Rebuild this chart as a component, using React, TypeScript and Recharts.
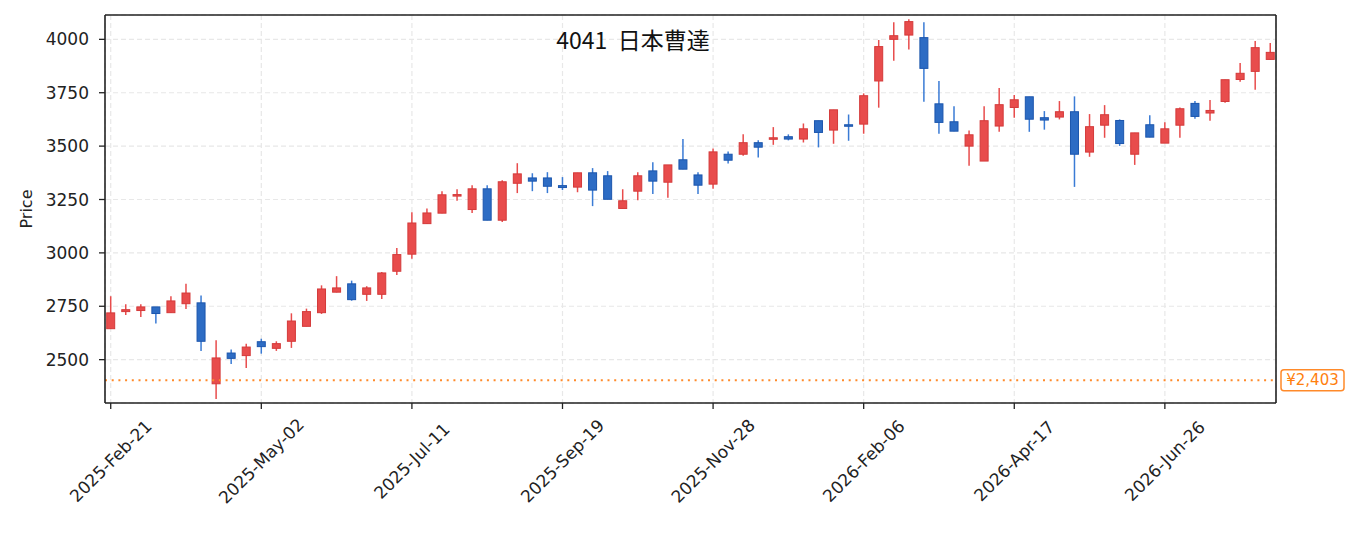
import { ComposedChart, Bar, XAxis, YAxis, CartesianGrid, ReferenceLine } from "recharts";

// 週足（2025-02-21 〜 2026-08-14）
const dates = [
  "2025-Feb-21", "2025-Feb-28", "2025-Mar-07", "2025-Mar-14", "2025-Mar-21", "2025-Mar-28",
  "2025-Apr-04", "2025-Apr-11", "2025-Apr-18", "2025-Apr-25", "2025-May-02", "2025-May-09",
  "2025-May-16", "2025-May-23", "2025-May-30", "2025-Jun-06", "2025-Jun-13", "2025-Jun-20",
  "2025-Jun-27", "2025-Jul-04", "2025-Jul-11", "2025-Jul-18", "2025-Jul-25", "2025-Aug-01",
  "2025-Aug-08", "2025-Aug-15", "2025-Aug-22", "2025-Aug-29", "2025-Sep-05", "2025-Sep-12",
  "2025-Sep-19", "2025-Sep-26", "2025-Oct-03", "2025-Oct-10", "2025-Oct-17", "2025-Oct-24",
  "2025-Oct-31", "2025-Nov-07", "2025-Nov-14", "2025-Nov-21", "2025-Nov-28", "2025-Dec-05",
  "2025-Dec-12", "2025-Dec-19", "2025-Dec-26", "2026-Jan-02", "2026-Jan-09", "2026-Jan-16",
  "2026-Jan-23", "2026-Jan-30", "2026-Feb-06", "2026-Feb-13", "2026-Feb-20", "2026-Feb-27",
  "2026-Mar-06", "2026-Mar-13", "2026-Mar-20", "2026-Mar-27", "2026-Apr-03", "2026-Apr-10",
  "2026-Apr-17", "2026-Apr-24", "2026-May-01", "2026-May-08", "2026-May-15", "2026-May-22",
  "2026-May-29", "2026-Jun-05", "2026-Jun-12", "2026-Jun-19", "2026-Jun-26", "2026-Jul-03",
  "2026-Jul-10", "2026-Jul-17", "2026-Jul-24", "2026-Jul-31", "2026-Aug-07", "2026-Aug-14",
];

const opens = [
  2645, 2725, 2730, 2747, 2720, 2762, 2766, 2387, 2531, 2519, 2584, 2553, 2586, 2656, 2720, 2816,
  2855, 2806, 2806, 2914, 2994, 3137, 3186, 3269, 3203, 3300, 3153, 3326, 3351, 3351, 3315, 3308,
  3375, 3361, 3208, 3289, 3384, 3331, 3436, 3365, 3322, 3462, 3462, 3516, 3533, 3544, 3533, 3619,
  3575, 3600, 3603, 3805, 4000, 4020, 4008, 3698, 3614, 3500, 3430, 3594, 3681, 3731, 3633, 3636,
  3661, 3472, 3598, 3620, 3462, 3600, 3514, 3598, 3700, 3655, 3709, 3812, 3850, 3906,
];
const highs = [
  2797, 2759, 2759, 2747, 2797, 2856, 2801, 2591, 2547, 2575, 2598, 2586, 2717, 2739, 2848, 2891,
  2870, 2844, 2910, 3023, 3190, 3208, 3289, 3298, 3317, 3317, 3340, 3420, 3373, 3378, 3355, 3375,
  3397, 3383, 3298, 3378, 3425, 3412, 3533, 3378, 3489, 3475, 3555, 3527, 3589, 3555, 3606, 3619,
  3670, 3648, 3747, 3997, 4080, 4094, 4080, 3805, 3687, 3573, 3687, 3772, 3739, 3731, 3664, 3711,
  3733, 3650, 3692, 3625, 3562, 3645, 3612, 3681, 3711, 3716, 3811, 3889, 3992, 3983,
];
const lows = [
  2645, 2709, 2700, 2669, 2720, 2737, 2541, 2316, 2480, 2461, 2528, 2541, 2555, 2656, 2714, 2815,
  2776, 2775, 2784, 2897, 2972, 3137, 3186, 3244, 3187, 3153, 3145, 3280, 3289, 3280, 3294, 3284,
  3219, 3251, 3208, 3247, 3276, 3258, 3392, 3276, 3300, 3419, 3455, 3447, 3506, 3527, 3517, 3494,
  3511, 3525, 3558, 3680, 3900, 3952, 3708, 3558, 3570, 3408, 3430, 3567, 3633, 3567, 3577, 3625,
  3309, 3450, 3539, 3501, 3412, 3542, 3514, 3539, 3628, 3619, 3703, 3801, 3764, 3906,
];
const closes = [
  2719, 2734, 2747, 2716, 2775, 2812, 2586, 2508, 2506, 2559, 2561, 2575, 2681, 2725, 2831, 2836,
  2781, 2836, 2906, 2992, 3140, 3187, 3272, 3273, 3300, 3153, 3333, 3370, 3336, 3312, 3306, 3375,
  3294, 3251, 3244, 3361, 3336, 3412, 3392, 3317, 3473, 3434, 3516, 3495, 3539, 3533, 3581, 3564,
  3670, 3594, 3736, 3966, 4017, 4083, 3864, 3611, 3570, 3553, 3619, 3694, 3717, 3626, 3622, 3661,
  3462, 3591, 3647, 3512, 3562, 3542, 3581, 3675, 3639, 3667, 3811, 3841, 3961, 3939,
];

const xTicks = [0, 10, 20, 30, 40, 50, 60, 70];
const yTicks = [2500, 2750, 3000, 3250, 3500, 3750, 4000];
const lastPrice = 2403;
const title = "4041  日本曹達";

const rows = dates.map((date, i) => ({
  i,
  date,
  open: opens[i],
  high: highs[i],
  low: lows[i],
  close: closes[i],
  range: [lows[i], highs[i]],
}));

const xDomain = [-0.38, 77.38];
const yDomain = [2297, 4114];
const font = "DejaVu Sans";
const axisColor = "#222";

// ローソク足1本
function Candle(props: any) {
  const { x, y, width, height, payload } = props;
  if (!payload) return null;
  const { open, close, high, low } = payload;
  const top = Math.min(y, y + height);
  const h = Math.abs(height);
  const k = high > low ? h / (high - low) : 0;
  const cx = x + width / 2;
  const up = close >= open;
  const yO = top + (high - open) * k;
  const yC = top + (high - close) * k;
  const bTop = Math.min(yO, yC);
  const bH = Math.max(Math.abs(yO - yC), 1.5);
  const wick = up ? "#e84c4c" : "#3a7bd5";
  const fill = up ? "#e84c4c" : "#2d6cc4";
  const edge = up ? "#d43a3a" : "#1c56ad";
  return (
    <g>
      <line x1={cx} x2={cx} y1={top} y2={top + h} stroke={wick} strokeWidth={1.5} />
      <rect x={cx - 4} y={bTop} width={8} height={bH} fill={fill} stroke={edge} strokeWidth={1} />
    </g>
  );
}

function DateTick(props: any) {
  const { x, y, payload } = props;
  return (
    <text
      x={x}
      y={y + 50}
      transform={`rotate(-45, ${x}, ${y + 50})`}
      textAnchor="middle"
      dominantBaseline="central"
      fontFamily={font}
      fontSize={17}
      fill={axisColor}
    >
      {dates[payload.value]}
    </text>
  );
}

export default function App() {
  return (
    <div style={{ position: "absolute", left: 0, top: 0, background: "#fff" }}>
      <ComposedChart
        width={1355}
        height={533}
        data={rows}
        margin={{ top: 15, right: 79, bottom: 0, left: 0 }}
      >
        <CartesianGrid stroke="#e8e8e8" strokeDasharray="5 3" strokeWidth={1.2} />
        <XAxis
          dataKey="i"
          type="number"
          domain={xDomain}
          ticks={xTicks}
          allowDataOverflow
          height={130}
          tick={<DateTick />}
          tickSize={6}
          tickLine={{ stroke: axisColor, strokeWidth: 1.3 }}
          axisLine={{ stroke: axisColor, strokeWidth: 1.6 }}
        />
        <YAxis
          type="number"
          domain={yDomain}
          ticks={yTicks}
          allowDataOverflow
          width={105}
          tickSize={6}
          tickMargin={10}
          tick={{ fontFamily: font, fontSize: 17, fill: axisColor }}
          tickLine={{ stroke: axisColor, strokeWidth: 1.3 }}
          axisLine={{ stroke: axisColor, strokeWidth: 1.6 }}
          label={{
            content: () => (
              <text
                x={26}
                y={209}
                transform="rotate(-90, 26, 209)"
                textAnchor="middle"
                dominantBaseline="central"
                fontFamily={font}
                fontSize={16}
                fill={axisColor}
              >
                Price
              </text>
            ),
          }}
        />
        {/* 枠線（上・右）とタイトル */}
        <ReferenceLine
          y={yDomain[1]}
          stroke={axisColor}
          strokeWidth={1.6}
          label={{
            content: () => (
              <text
                x={633}
                y={49}
                textAnchor="middle"
                fontFamily="Noto Sans CJK JP"
                fontSize={23}
                fill="#111"
                xmlSpace="preserve"
                style={{ whiteSpace: "pre" }}
              >
                {title}
              </text>
            ),
          }}
        />
        <ReferenceLine x={xDomain[1]} stroke={axisColor} strokeWidth={1.6} />
        <ReferenceLine
          y={lastPrice}
          stroke="#ff8a2a"
          strokeWidth={2}
          strokeDasharray="2 4.7"
          label={{
            content: (p: any) => {
              const vb = p.viewBox;
              const bx = vb.x + vb.width + 5;
              return (
                <g>
                  <rect x={bx} y={vb.y - 10.5} width={63} height={21} rx={3} fill="#fff" stroke="#ff8a2a" strokeWidth={1.5} />
                  <text
                    x={bx + 31.5}
                    y={vb.y}
                    textAnchor="middle"
                    dominantBaseline="central"
                    fontFamily={font}
                    fontSize={15}
                    fill="#ff7f0e"
                  >
                    ¥{lastPrice.toLocaleString("en-US")}
                  </text>
                </g>
              );
            },
          }}
        />
        <Bar dataKey="range" barSize={9} shape={<Candle />} isAnimationActive={false} />
      </ComposedChart>
    </div>
  );
}
